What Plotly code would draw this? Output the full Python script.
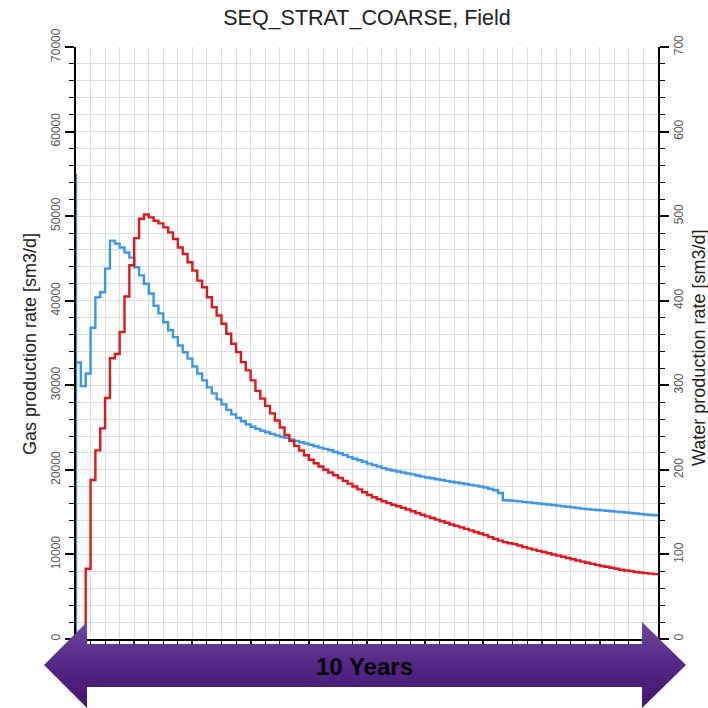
import base64
import plotly.graph_objects as go

# ---------------- data ----------------
TITLE = "SEQ_STRAT_COARSE, Field"
GAS_TITLE = "Gas production rate [sm3/d]"
WATER_TITLE = "Water production rate [sm3/d]"
ARROW_TEXT = "10 Years"

# monthly index (0..119), value holds until next month
months = list(range(120))

# initial gas spike at t=0 (start value, spike value)
gas_spike_x = [0, 0]
gas_spike_y = [0, 55000]

gas_rate = [
    32700, 29900, 31400, 36800, 40400, 41000, 43800, 47100, 46750, 46300,
    45700, 45100, 43950, 43000, 42000, 40850, 39400, 38500, 37450, 36500,
    35700, 34700, 33900, 33150, 32230, 31400, 30580, 29750, 29040, 28330,
    27740, 27090, 26560, 26150, 25740, 25380, 25090, 24850, 24620, 24440,
    24260, 24080, 23910, 23790, 23610, 23430, 23260, 23120, 22960, 22790,
    22630, 22480, 22310, 22120, 21960, 21750, 21510, 21310, 21130, 20950,
    20740, 20570, 20390, 20210, 20050, 19920, 19800, 19680, 19570, 19460,
    19330, 19200, 19090, 19000, 18890, 18800, 18700, 18590, 18500, 18410,
    18320, 18230, 18130, 18030, 17920, 17770, 17580, 17270, 16410, 16380,
    16330, 16270, 16210, 16150, 16080, 16020, 15960, 15900, 15840, 15770,
    15700, 15630, 15560, 15490, 15420, 15360, 15300, 15250, 15210, 15160,
    15110, 15060, 15020, 14960, 14900, 14840, 14780, 14720, 14670, 14640,
]

water_rate = [
    0, 0, 83, 188, 223, 249, 285, 332, 337, 363,
    405, 442, 474, 497, 502, 498.5, 494.6, 491.5, 486.7, 480.8,
    473, 463, 455.3, 445.4, 435.6, 423.8, 415.9, 404.1, 392.3, 382.5,
    372.7, 360.9, 349.1, 339.2, 327.4, 317.6, 305.8, 293.4, 284.2, 275.7,
    266.8, 258.3, 250, 241.4, 234.3, 228.4, 222.8, 217.2, 211.9, 207.8,
    203.9, 200.1, 196.8, 193.6, 190.3, 187, 183.7, 180.3, 176.9, 173.5,
    170.2, 167.6, 165.3, 162.9, 160.7, 158.8, 156.9, 155, 153.1, 151.1,
    149, 147, 145, 143, 141.2, 139.3, 137.4, 135.4, 133.8, 132,
    130.2, 128.5, 126.6, 124.7, 122.8, 120.5, 118.4, 116.3, 114.5, 113.3,
    112.2, 110.6, 108.6, 107.2, 105.7, 104.2, 102.8, 101.4, 100, 98.6,
    97.2, 95.8, 94.3, 92.9, 91.5, 90.1, 88.8, 87.6, 86.4, 85.4,
    84.2, 83.1, 81.9, 81, 80.2, 79.3, 78.6, 77.9, 77.3, 76.7,
]

END_MONTH = 120
GAS_RANGE = [0, 70000]
WATER_RANGE = [0, 700]

# ---------------- styling ----------------
BLUE = "#3a97e8"
RED = "#e3161d"
GRID = "#dedede"
FONT = "Arial, Liberation Sans, sans-serif"

W, H = 708, 708
L, R, T, B = 76, 50, 47, 69
PW, PH = W - L - R, H - T - B

gas_x = gas_spike_x + months + [END_MONTH]
gas_y = gas_spike_y + gas_rate + [gas_rate[-1]]
wat_x = months + [END_MONTH]
wat_y = water_rate + [water_rate[-1]]

fig = go.Figure()
fig.add_trace(go.Scatter(x=gas_x, y=gas_y, mode="lines", line_shape="hv",
                         line=dict(color=BLUE, width=2.4), yaxis="y",
                         showlegend=False, cliponaxis=False))
fig.add_trace(go.Scatter(x=wat_x, y=wat_y, mode="lines", line_shape="hv",
                         line=dict(color=RED, width=2.4), yaxis="y2",
                         showlegend=False))

tickfont = dict(family=FONT, size=12, color="#555555")

fig.update_layout(
    width=W, height=H, autosize=False,
    margin=dict(l=L, r=R, t=T, b=B),
    paper_bgcolor="white", plot_bgcolor="white",
    font=dict(family=FONT),
    title=dict(text=TITLE, x=(L + PW / 2) / W, xanchor="center",
               y=1 - 17 / H, yanchor="middle",
               font=dict(family=FONT, size=21.5, color="#222222")),
    xaxis=dict(range=[0, END_MONTH], showgrid=True, gridcolor=GRID, gridwidth=1.4,
               dtick=12, tick0=0, ticks="outside", ticklen=6, tickwidth=1.5,
               tickcolor="black", showline=True, linecolor="black", linewidth=2,
               showticklabels=False, zeroline=False,
               minor=dict(dtick=3, showgrid=True, gridcolor=GRID, gridwidth=1.4,
                          ticks="outside", ticklen=3, tickcolor="black", tickwidth=1)),
    yaxis=dict(range=GAS_RANGE, dtick=10000, showgrid=True, gridcolor=GRID, gridwidth=1.4,
               ticks="outside", ticklen=9, tickwidth=1.5, tickcolor="black",
               showline=True, linecolor="black", linewidth=2, zeroline=False,
               tickangle=-90, tickfont=tickfont, tickformat="d",
               minor=dict(dtick=2000, showgrid=True, gridcolor=GRID, gridwidth=1.4,
                          ticks="outside", ticklen=5, tickcolor="black", tickwidth=1.2)),
    yaxis2=dict(range=WATER_RANGE, dtick=100, overlaying="y", side="right",
                showgrid=False, ticks="outside", ticklen=9, tickwidth=1.5,
                tickcolor="black", showline=True, linecolor="black", linewidth=2,
                zeroline=False, tickangle=-90, tickfont=tickfont, tickformat="d",
                minor=dict(dtick=20, ticks="outside", ticklen=5, tickcolor="black",
                           tickwidth=1.2, showgrid=False)),
)

# axis titles
fig.add_annotation(text=GAS_TITLE, xref="paper", yref="paper",
                   x=(30 - L) / PW, y=(H - B - 344) / PH, textangle=-90,
                   showarrow=False, xanchor="center", yanchor="middle",
                   font=dict(family=FONT, size=18, color="#222222"))
fig.add_annotation(text=WATER_TITLE, xref="paper", yref="paper",
                   x=(699 - L) / PW, y=(H - B - 348) / PH, textangle=-90,
                   showarrow=False, xanchor="center", yanchor="middle",
                   font=dict(family=FONT, size=18, color="#222222"))

# purple double arrow (decoration) as an embedded SVG with vertical gradient
ax0, ay0, ax1, ay1 = 44, 622, 686, 708
aw, ah = ax1 - ax0, ay1 - ay0
svg = f'''<svg xmlns="http://www.w3.org/2000/svg" width="{aw}" height="{ah}" viewBox="0 0 {aw} {ah}" preserveAspectRatio="none">
<defs><linearGradient id="g" x1="0" y1="0" x2="0" y2="1">
<stop offset="0" stop-color="#70499b"/><stop offset="0.5" stop-color="#552685"/><stop offset="1" stop-color="#45146d"/>
</linearGradient></defs>
<polygon fill="url(#g)" points="0,43 43,0 43,22 598,22 598,0 642,43 598,86 598,65 43,65 43,86"/>
</svg>'''
src = "data:image/svg+xml;base64," + base64.b64encode(svg.encode()).decode()
fig.add_layout_image(source=src, xref="paper", yref="paper",
                     x=(ax0 - L) / PW, y=(H - B - ay0) / PH,
                     sizex=aw / PW, sizey=ah / PH, xanchor="left", yanchor="top",
                     sizing="stretch", layer="above")

fig.add_annotation(text=f"<b>{ARROW_TEXT}</b>", xref="paper", yref="paper",
                   x=(364 - L) / PW, y=(H - B - 666) / PH, showarrow=False,
                   xanchor="center", yanchor="middle",
                   font=dict(family=FONT, size=24, color="black"))

fig.write_html("out.html")
